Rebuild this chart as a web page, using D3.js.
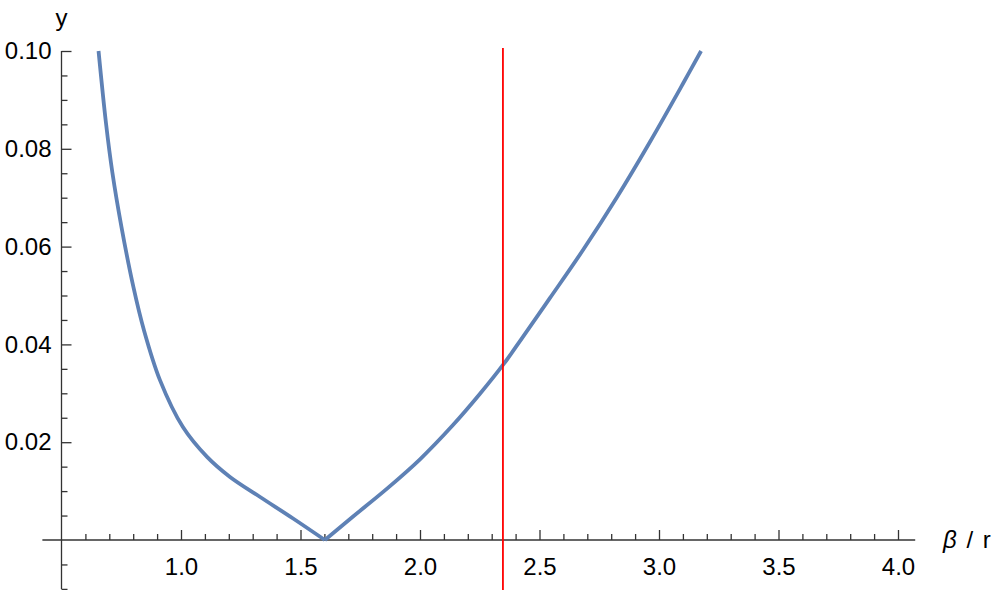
<!DOCTYPE html>
<html>
<head>
<meta charset="utf-8">
<script src="https://cdn.jsdelivr.net/npm/d3@7"></script>
<style>
  body { margin: 0; background: #fff; }
  svg { display: block; }
  .tick text { font-family: "Liberation Sans", Arial, sans-serif; font-size: 24px; fill: #000; }
  .lbl { font-family: "Liberation Sans", Arial, sans-serif; font-size: 24px; fill: #000; }
</style>
</head>
<body>
<script>
// curve, split at the cusp
var leftBeta = [0.655, 0.686, 0.713, 0.751, 0.801, 0.845, 0.912, 1.008, 1.109, 1.205, 1.331, 1.469, 1.602];
var leftY    = [0.1000, 0.0853, 0.0751, 0.0640, 0.0517, 0.0429, 0.0327, 0.0231, 0.0170, 0.0129, 0.0088, 0.0044, 0.0];
var rightBeta = [1.602, 1.720, 1.862, 2.000, 2.138, 2.251, 2.352, 2.427, 2.544, 2.682, 2.824, 2.962, 3.100, 3.176];
var rightY    = [0.0, 0.0048, 0.0105, 0.0165, 0.0235, 0.0299, 0.0361, 0.0413, 0.0495, 0.0593, 0.0701, 0.0814, 0.0933, 0.1000];

// vertical marker
var markerBeta = 2.347;
var markerRange = [-0.0105, 0.1006];

// ticks
var xMajor = [1.0, 1.5, 2.0, 2.5, 3.0, 3.5, 4.0];
var xMinor = [0.6, 0.7, 0.8, 0.9, 1.1, 1.2, 1.3, 1.4, 1.6, 1.7, 1.8, 1.9, 2.1, 2.2, 2.3, 2.4,
              2.6, 2.7, 2.8, 2.9, 3.1, 3.2, 3.3, 3.4, 3.6, 3.7, 3.8, 3.9];
var yMajor = [0.02, 0.04, 0.06, 0.08, 0.10];
var yMinor = [-0.01, -0.005, 0.005, 0.01, 0.015, 0.025, 0.03, 0.035, 0.045, 0.05, 0.055,
              0.065, 0.07, 0.075, 0.085, 0.09, 0.095];
var xDomainLine = [0.42, 4.072];
var yDomainLine = [-0.01, 0.10];

window.onload = function(){
    var w = 997, h = 590;
    var svg = d3.select("body").append("svg")
        .attr("width", w)
        .attr("height", h);

    var x = d3.scaleLinear().domain([0.5, 4.0]).range([61.5, 898]);
    var y = d3.scaleLinear().domain([0, 0.1]).range([540, 51]);

    var axisColor = "#333";

    // x axis: ticks point up, labels underneath
    var xg = svg.append("g").attr("transform", "translate(0," + y(0) + ")");
    xg.append("line")
        .attr("x1", x(xDomainLine[0])).attr("x2", x(xDomainLine[1]))
        .attr("stroke", axisColor).attr("stroke-width", 1.3);
    xg.append("g")
        .call(d3.axisBottom(x).tickValues(xMinor).tickSize(-6).tickFormat(""))
        .call(function(g){ g.select(".domain").remove(); });
    xg.append("g")
        .call(d3.axisBottom(x).tickValues(xMajor).tickSize(-10).tickPadding(18).tickFormat(d3.format(".1f")))
        .call(function(g){ g.select(".domain").remove(); });

    // y axis: ticks point right, labels left
    var yg = svg.append("g").attr("transform", "translate(" + x(0.5) + ",0)");
    yg.append("line")
        .attr("y1", y(yDomainLine[0])).attr("y2", y(yDomainLine[1]))
        .attr("stroke", axisColor).attr("stroke-width", 1.3);
    yg.append("g")
        .call(d3.axisLeft(y).tickValues(yMinor).tickSize(-6).tickFormat(""))
        .call(function(g){ g.select(".domain").remove(); });
    yg.append("g")
        .call(d3.axisLeft(y).tickValues(yMajor).tickSize(-10).tickPadding(10).tickFormat(d3.format(".2f")))
        .call(function(g){ g.select(".domain").remove(); });

    svg.selectAll(".tick line").attr("stroke", axisColor).attr("stroke-width", 1.3);

    // curve, two branches so the cusp stays sharp
    var line = d3.line()
        .x(function(d){ return x(d[0]); })
        .y(function(d){ return y(d[1]); })
        .curve(d3.curveCatmullRom.alpha(0.5));

    var branches = [d3.zip(leftBeta, leftY), d3.zip(rightBeta, rightY)];
    svg.selectAll(".branch")
        .data(branches)
        .enter()
        .append("path")
        .attr("class", "branch")
        .attr("d", line)
        .attr("fill", "none")
        .attr("stroke", "#5E81B5")
        .attr("stroke-width", 3.8);

    // red marker
    svg.append("line")
        .attr("x1", x(markerBeta)).attr("x2", x(markerBeta))
        .attr("y1", y(markerRange[0])).attr("y2", y(markerRange[1]))
        .attr("stroke", "#FF0000")
        .attr("stroke-width", 1.8);

    // axis labels
    svg.append("text")
        .attr("class", "lbl")
        .attr("x", x(0.5))
        .attr("y", 26)
        .attr("text-anchor", "middle")
        .text("y");

    var xl = svg.append("text")
        .attr("class", "lbl")
        .attr("x", 943)
        .attr("y", 548)
        .attr("word-spacing", "3px");
    xl.append("tspan").attr("font-style", "italic").text("β");
    xl.append("tspan").text(" / r");
};
</script>
</body>
</html>
